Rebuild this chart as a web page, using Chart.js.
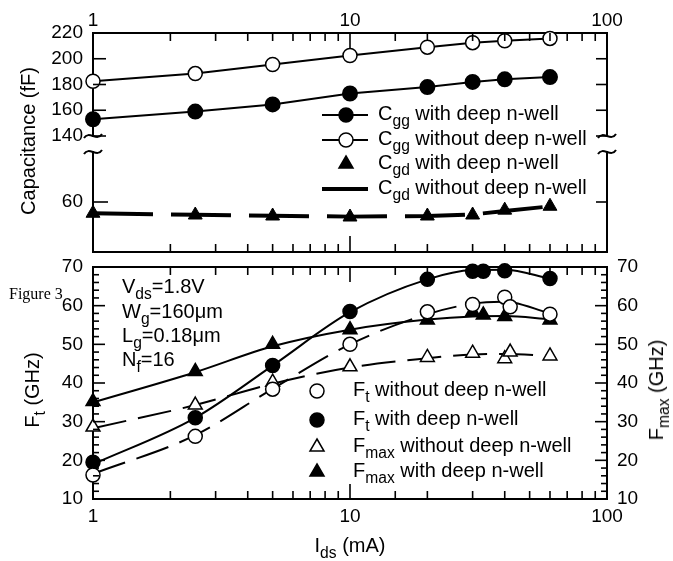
<!DOCTYPE html>
<html>
<head>
<meta charset="utf-8">
<script src="https://cdn.jsdelivr.net/npm/chart.js@4.4.1/dist/chart.umd.min.js"></script>
<style>
  body { margin: 0; background: #fff; }
  #fig { position: relative; width: 673px; height: 561px; overflow: hidden;
         font-family: "Liberation Sans", Arial, sans-serif; color: #000; }
  #fig canvas { position: absolute; left: 0; top: 0; }
  .t { position: absolute; white-space: nowrap; font-size: 20px; line-height: 1; }
  .t sub { font-size: 0.78em; vertical-align: -0.38em; line-height: 0; }
  .rot { transform: translate(-50%, -50%) rotate(-90deg); }
  .ctr { transform: translate(-50%, -50%); }
  .fig3 { position: absolute; font-family: "Liberation Serif", serif; font-size: 16px; }
  svg.s { position: absolute; overflow: visible; }
</style>
</head>
<body>
<div id="fig">
  <canvas id="capHi" width="673" height="561"></canvas>
  <canvas id="capLo" width="673" height="561"></canvas>
  <canvas id="freq" width="673" height="561"></canvas>
</div>
<script>
// drain current (mA) for the capacitance curves
var ids_cap = [1, 2.5, 5, 10, 20, 30, 40, 60];
var cgg_with = [153, 159, 164.5, 173, 178, 182, 184, 185.8];
var cgg_without = [182.5, 188.5, 195.5, 202.5, 209, 212.5, 214, 215.8];
var cgd_with = [51, 49.6, 48.8, 48, 48.8, 49.6, 53.5, 56.6];
var cgd_without = [51, 49.8, 49, 48.3, 48.8, 50, 52.8, 56.5];

// Ft / Fmax measured points
var ids_dnw = [1, 2.5, 5, 10, 20, 30, 33, 40, 60];
var ft_with = [19.5, 31, 44.5, 58.5, 66.8, 68.9, 68.9, 69, 67];
var fmax_with = [35.2, 43, 50, 53.8, 56.3, 58.4, 57.6, 57.2, 56.3];
var ids_nodnw = [1, 2.5, 5, 10, 20, 30, 40, 42, 60];
var ft_without = [16.2, 26.2, 38.4, 50, 58.4, 60.3, 62.2, 59.7, 57.8];
var fmax_without = [28.6, 34.3, 40.2, 44.2, 46.6, 47.7, 46.3, 48, 47];

// fitted curves through the points
var ids_fit = [1, 2.5, 5, 10, 20, 30, 40, 60];
var ft_with_fit = [19, 31, 44.5, 58.3, 66.8, 69.2, 69.3, 67];
var ft_without_fit = [16.5, 26.5, 38.5, 50, 57.8, 60.5, 61, 58];
var fmax_with_fit = [35, 42.8, 49.5, 53.8, 56.4, 57.2, 57.3, 56.5];
var fmax_without_fit = [28.3, 34.3, 39.8, 44, 46.4, 47.4, 47.5, 47];

var decades = [1, 10, 100];

Chart.defaults.font.family = "Liberation Sans";
Chart.defaults.font.size = 19;
Chart.defaults.color = "#000";

function pts(xs, ys) {
	return xs.map((x, i) => ({ x: x, y: ys[i] }));
}
function fixW(w) { return (s) => { s.width = w; }; }
function fixH(h) { return (s) => { s.height = h; }; }
function isDecade(v) {
	var l = Math.log10(v);
	return Math.abs(l - Math.round(l)) < 1e-6;
}
function decadeLabel(v) {
	return isDecade(v) && decades.indexOf(Math.round(v)) >= 0 ? String(Math.round(v)) : "";
}

var frame = { display: true, width: 2, color: "#000" };
var noGrid = { display: false, drawTicks: false };

// tick marks pointing into the plot
function inTicks(list) {
	return {
		id: "inTicks",
		afterDraw(chart) {
			var ctx = chart.ctx, a = chart.chartArea;
			ctx.save();
			ctx.strokeStyle = "#000";
			ctx.lineWidth = 1.6;
			list.forEach((ax) => {
				var s = chart.scales[ax.id];
				s.ticks.forEach((t) => {
					var p = s.getPixelForValue(t.value);
					var len = ax.major(t.value) ? ax.long : ax.short;
					if (!len) return;
					ctx.beginPath();
					if (s.position == "left") { ctx.moveTo(a.left, p); ctx.lineTo(a.left + len, p); }
					if (s.position == "right") { ctx.moveTo(a.right, p); ctx.lineTo(a.right - len, p); }
					if (s.position == "top") { ctx.moveTo(p, a.top); ctx.lineTo(p, a.top + len); }
					if (s.position == "bottom") { ctx.moveTo(p, a.bottom); ctx.lineTo(p, a.bottom - len); }
					ctx.stroke();
				});
			});
			ctx.restore();
		}
	};
}

// axis break squiggles
function breakMarks(edge) {
	return {
		id: "breakMarks",
		afterDraw(chart) {
			var ctx = chart.ctx, a = chart.chartArea;
			var y = edge == "bottom" ? a.bottom : a.top;
			ctx.save();
			ctx.strokeStyle = "#000";
			ctx.lineWidth = 2;
			[a.left, a.right].forEach((x) => {
				ctx.beginPath();
				ctx.moveTo(x - 9, y + 2);
				ctx.bezierCurveTo(x - 4, y - 6, x + 4, y + 6, x + 9, y - 2);
				ctx.stroke();
			});
			ctx.restore();
		}
	};
}

var base = {
	responsive: false,
	animation: false,
	devicePixelRatio: 1,
	plugins: { legend: { display: false }, tooltip: { enabled: false } }
};

// Cgg (upper part of the broken axis)
new Chart(document.getElementById("capHi"), {
	type: "line",
	data: {
		datasets: [
			{ data: pts(ids_cap, cgg_with), borderColor: "#000", borderWidth: 2, pointRadius: 7,
				pointBackgroundColor: "#000", pointBorderColor: "#000", tension: 0, clip: false },
			{ data: pts(ids_cap, cgg_without), borderColor: "#000", borderWidth: 2, pointRadius: 7,
				pointBackgroundColor: "#fff", pointBorderColor: "#000", pointBorderWidth: 1.5, tension: 0, clip: false }
		]
	},
	options: Object.assign({}, base, {
		layout: { padding: { top: 0, bottom: 425, left: 0, right: 0 } },
		scales: {
			x: { type: "logarithmic", position: "top", min: 1, max: 100, grid: noGrid, border: frame,
				ticks: { autoSkip: false, maxRotation: 0, padding: 1, callback: decadeLabel }, afterFit: fixH(33) },
			y: { position: "left", min: 140, max: 220, grid: noGrid, border: frame,
				ticks: { stepSize: 20, padding: 10, autoSkip: false }, afterFit: fixW(93) },
			y2: { position: "right", min: 140, max: 220, grid: noGrid, border: frame,
				ticks: { stepSize: 20, display: false }, afterFit: fixW(66) }
		}
	}),
	plugins: [
		inTicks([
			{ id: "x", major: isDecade, long: 15, short: 8 },
			{ id: "y", major: () => true, long: 13, short: 0 },
			{ id: "y2", major: () => true, long: 11, short: 0 }
		]),
		breakMarks("bottom")
	]
});

// Cgd (lower part of the broken axis)
new Chart(document.getElementById("capLo"), {
	type: "line",
	data: {
		datasets: [
			{ data: pts(ids_cap, cgd_with), showLine: false, pointStyle: "triangle", pointRadius: 8,
				pointBackgroundColor: "#000", pointBorderColor: "#000", clip: false, order: 1 },
			{ data: pts(ids_cap, cgd_without), borderColor: "#000", borderWidth: 4, borderDash: [60, 18],
				pointRadius: 0, tension: 0, order: 2 }
		]
	},
	options: Object.assign({}, base, {
		layout: { padding: { top: 152, bottom: 299, left: 0, right: 0 } },
		scales: {
			x: { type: "logarithmic", position: "bottom", min: 1, max: 100, grid: noGrid, border: frame,
				ticks: { display: false }, afterFit: fixH(10) },
			y: { position: "left", min: 20, max: 100, grid: noGrid, border: frame,
				ticks: { padding: 10 }, afterBuildTicks: (s) => { s.ticks = [{ value: 60 }]; }, afterFit: fixW(93) },
			y2: { position: "right", min: 20, max: 100, grid: noGrid, border: frame,
				ticks: { display: false }, afterBuildTicks: (s) => { s.ticks = [{ value: 60 }]; }, afterFit: fixW(66) }
		}
	}),
	plugins: [
		inTicks([
			{ id: "x", major: isDecade, long: 16, short: 8 },
			{ id: "y", major: () => true, long: 15, short: 0 },
			{ id: "y2", major: () => true, long: 11, short: 0 }
		]),
		breakMarks("top")
	]
});

// Ft / Fmax panel
function marks(xs, ys, style, fill) {
	return { data: pts(xs, ys), showLine: false, pointStyle: style, pointRadius: style == "triangle" ? 8 : 7,
		pointBackgroundColor: fill, pointBorderColor: "#000", pointBorderWidth: 1.5, clip: false, order: 1 };
}
function curve(ys, dashed) {
	return { data: pts(ids_fit, ys), borderColor: "#000", borderWidth: 2, borderDash: dashed ? [34, 12] : [],
		pointRadius: 0, tension: 0.4, cubicInterpolationMode: "monotone", order: 2 };
}

new Chart(document.getElementById("freq"), {
	type: "line",
	data: {
		datasets: [
			marks(ids_nodnw, ft_without, "circle", "#fff"),
			marks(ids_dnw, ft_with, "circle", "#000"),
			marks(ids_nodnw, fmax_without, "triangle", "#fff"),
			marks(ids_dnw, fmax_with, "triangle", "#000"),
			curve(ft_with_fit, false),
			curve(ft_without_fit, true),
			curve(fmax_with_fit, false),
			curve(fmax_without_fit, true)
		]
	},
	options: Object.assign({}, base, {
		layout: { padding: { top: 265, bottom: 22, left: 0, right: 0 } },
		scales: {
			x: { type: "logarithmic", position: "bottom", min: 1, max: 100, grid: noGrid, border: frame,
				ticks: { autoSkip: false, maxRotation: 0, padding: 6, callback: decadeLabel }, afterFit: fixH(40) },
			x2: { type: "logarithmic", position: "top", min: 1, max: 100, grid: noGrid, border: frame,
				ticks: { display: false }, afterFit: fixH(2) },
			y: { position: "left", min: 10, max: 70, grid: noGrid, border: frame,
				ticks: { stepSize: 2, padding: 10, autoSkip: false, callback: (v) => (v % 10 == 0 ? v : "") }, afterFit: fixW(93) },
			y2: { position: "right", min: 10, max: 70, grid: noGrid, border: frame,
				ticks: { stepSize: 2, padding: 10, autoSkip: false, callback: (v) => (v % 10 == 0 ? v : "") }, afterFit: fixW(66) }
		}
	}),
	plugins: [
		inTicks([
			{ id: "x", major: isDecade, long: 15, short: 8 },
			{ id: "x2", major: isDecade, long: 15, short: 8 },
			{ id: "y", major: (v) => v % 10 == 0, long: 12, short: 6 },
			{ id: "y2", major: (v) => v % 10 == 0, long: 12, short: 6 }
		])
	]
});

// text, legends and titles
var fig = document.getElementById("fig");
function put(html, x, y, cls) {
	var d = document.createElement("div");
	d.className = "t" + (cls ? " " + cls : "");
	d.style.left = x + "px";
	d.style.top = y + "px";
	d.innerHTML = html;
	fig.appendChild(d);
}
function sample(svg, x, y) {
	var d = document.createElement("div");
	d.innerHTML = '<svg class="s" width="60" height="20" style="left:' + x + 'px;top:' + (y - 10) + 'px">' + svg + "</svg>";
	fig.appendChild(d.firstChild);
}

var circ = (fill) => '<circle cx="24" cy="10" r="7" fill="' + fill + '" stroke="#000" stroke-width="1.5"/>';
var tri = (fill) => '<polygon points="24,2 31,14 17,14" fill="' + fill + '" stroke="#000" stroke-width="1.5"/>';
var seg = (w) => '<line x1="0" y1="10" x2="46" y2="10" stroke="#000" stroke-width="' + w + '"/>';

// capacitance legend
var capRows = [
	["C<sub>gg</sub> with deep n-well", seg(2) + circ("#000"), 115],
	["C<sub>gg</sub> without deep n-well", seg(2) + circ("#fff"), 140],
	["C<sub>gd</sub> with deep n-well", tri("#000"), 164],
	["C<sub>gd</sub> without deep n-well", seg(4), 189]
];
capRows.forEach((r) => {
	sample(r[1], 322, r[2]);
	put(r[0], 378, r[2] - 12);
});

// frequency legend
var fRows = [
	["F<sub>t</sub> without deep n-well", circ("#fff"), 391],
	["F<sub>t</sub> with deep n-well", circ("#000"), 420],
	["F<sub>max</sub> without deep n-well", tri("#fff"), 447],
	["F<sub>max</sub> with deep n-well", tri("#000"), 472]
];
fRows.forEach((r) => {
	sample(r[1], 293, r[2]);
	put(r[0], 353, r[2] - 12);
});

// bias conditions
put("V<sub>ds</sub>=1.8V", 122, 276);
put("W<sub>g</sub>=160&mu;m", 122, 301);
put("L<sub>g</sub>=0.18&mu;m", 122, 325);
put("N<sub>f</sub>=16", 122, 349);

// axis titles
put("Capacitance (fF)", 28, 141, "rot");
put("F<sub>t</sub> (GHz)", 32, 390, "rot");
put("F<sub>max</sub> (GHz)", 656, 390, "rot");
put("I<sub>ds</sub> (mA)", 350, 545, "ctr");

var f3 = document.createElement("div");
f3.className = "fig3";
f3.style.left = "9px";
f3.style.top = "285px";
f3.textContent = "Figure 3";
fig.appendChild(f3);
</script>
</body>
</html>
